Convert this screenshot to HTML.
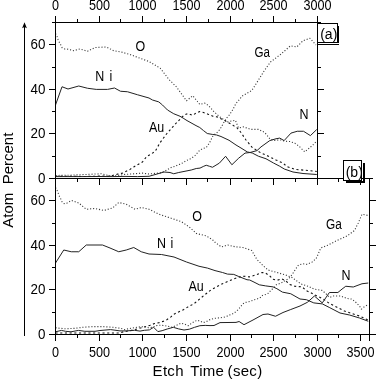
<!DOCTYPE html>
<html><head><meta charset="utf-8"><title>Atom Percent vs Etch Time</title>
<style>
html,body{margin:0;padding:0;background:#fff;}
body{width:376px;height:379px;overflow:hidden;}
svg{display:block;}
text{font-family:"Liberation Sans", Arial, sans-serif;fill:#000;white-space:pre;}
.tk{font-size:13px;}
.lb{font-size:13px;}
.ax{font-size:15px;letter-spacing:0.3px;word-spacing:-1.1px;}
.ay{font-size:15px;}
.bx{font-size:14px;}
</style></head><body>
<svg width="376" height="379" viewBox="0 0 376 379">
<rect x="0" y="0" width="376" height="379" fill="#fff"/>
<defs><clipPath id="c1"><rect x="55" y="22" width="263" height="157"/></clipPath><clipPath id="c2"><rect x="55" y="178" width="315" height="157"/></clipPath></defs>
<g clip-path="url(#c1)" fill="none" stroke-linejoin="round">
<polyline stroke="#3a3a3a" stroke-width="1.1" stroke-dasharray="1.1 1.9" points="55.50,33.50 57.00,36.30 58.00,39.50 59.40,42.40 60.80,44.90 62.10,47.70 65.00,49.10 68.00,49.20 70.70,49.90 73.50,50.70 80.00,49.00 87.50,51.25 95.00,47.50 106.25,47.00 113.75,50.75 121.25,52.00 130.00,54.50 140.00,58.25 149.00,61.50 160.25,68.25 169.00,79.50 176.50,87.00 186.50,100.75 192.75,95.75 197.25,101.25 199.75,104.40 204.75,103.10 208.50,105.60 213.50,111.25 219.75,116.90 227.25,121.90 235.40,120.25 238.50,128.00 243.50,126.90 251.00,129.40 258.50,129.40 264.75,132.50 269.75,138.75 273.50,140.60 278.50,140.00 281.00,140.00 284.75,141.25 289.75,141.50 294.75,143.10 299.10,146.25 301.60,148.75 304.75,151.90 308.50,148.75 313.50,144.40 316.75,141.00"/>
<polyline stroke="#3a3a3a" stroke-width="1.1" stroke-dasharray="1.1 1.9" points="55.50,175.50 70.00,175.20 85.00,174.50 101.25,173.75 106.25,175.00 112.50,176.25 125.00,174.40 135.00,173.75 142.50,173.10 149.00,174.00 161.50,172.75 171.25,167.50 175.00,166.25 179.40,164.40 183.10,162.75 186.25,160.60 189.40,159.40 192.50,157.50 195.00,155.60 199.40,150.60 202.50,148.75 206.25,147.50 208.10,145.00 210.00,141.90 213.10,135.60 214.75,134.40 218.50,131.25 221.00,127.50 223.50,123.10 226.60,118.10 229.75,114.50 232.90,109.50 235.90,103.50 238.50,100.60 241.00,97.50 243.00,95.50 251.75,90.50 258.00,80.75 264.25,70.75 270.50,62.00 280.50,54.50 290.50,45.75 296.75,47.00 303.00,40.75 310.00,38.25 316.00,45.00"/>
<polyline stroke="#111" stroke-width="1.1" stroke-dasharray="2.1 2.6" points="55.50,176.30 70.00,176.30 85.00,176.50 102.50,176.00 107.50,176.40 112.50,175.50 118.75,173.75 122.50,173.10 126.25,171.25 130.00,169.40 133.75,166.90 138.10,164.40 142.50,161.90 146.60,156.60 151.20,154.00 155.20,151.30 160.00,142.70 166.50,134.00 176.50,122.75 184.00,115.25 187.75,113.50 192.75,115.25 196.00,113.10 199.75,111.50 203.50,112.50 208.50,114.40 212.90,116.25 217.25,116.90 221.00,118.75 224.75,120.60 229.10,123.10 233.50,125.60 237.25,128.00 241.00,132.50 246.00,140.00 252.25,147.50 261.00,153.00 268.50,156.25 276.00,160.00 283.00,163.00 286.75,166.50 295.50,169.50 305.50,170.25 316.75,171.50"/>
<polyline stroke="#222" stroke-width="1" points="55.50,176.60 80.00,176.60 100.00,176.50 112.50,176.60 125.00,176.40 137.50,176.60 149.00,176.30 164.00,172.00 170.00,172.50 173.75,173.75 178.75,172.50 185.00,171.25 191.25,170.00 196.25,168.50 200.00,168.10 203.75,166.25 206.25,165.25 209.40,166.25 212.50,167.25 219.40,163.10 225.60,156.25 231.90,164.75 238.75,158.10 245.00,153.10 250.00,152.50 257.00,150.60 261.00,146.90 269.75,140.60 276.00,138.75 279.75,138.10 284.10,140.60 291.00,133.10 297.25,131.25 303.50,131.25 310.40,135.60 316.75,129.50"/>
<polyline stroke="#222" stroke-width="1" points="55.50,105.00 62.00,86.75 68.00,89.00 78.75,86.00 87.50,88.25 96.25,89.40 107.50,89.40 114.50,88.00 120.50,91.25 127.50,91.75 137.50,94.75 149.00,98.00 152.50,100.00 158.75,101.90 162.50,105.00 167.50,110.00 173.75,113.75 180.00,116.25 183.10,118.10 187.00,120.60 189.00,121.70 196.00,125.60 199.75,127.50 203.50,130.60 207.25,133.50 212.25,134.40 216.60,135.00 221.00,136.50 229.00,140.25 236.00,145.00 241.00,148.00 247.25,151.90 252.25,153.00 258.50,156.25 266.00,158.75 273.50,163.00 279.75,166.25 284.25,169.00 293.00,172.00 303.00,173.50 316.75,174.50"/>
</g>
<g clip-path="url(#c2)" fill="none" stroke-linejoin="round">
<polyline stroke="#3a3a3a" stroke-width="1.1" stroke-dasharray="1.1 1.9" points="55.50,187.50 57.00,190.20 58.30,193.40 59.40,196.30 60.80,199.00 62.10,201.90 64.00,203.60 66.30,203.50 68.80,202.00 71.70,200.50 78.75,203.00 86.25,209.25 95.00,208.50 103.75,210.50 112.50,208.00 118.75,202.50 126.25,204.25 135.00,209.25 141.25,207.50 149.00,209.25 159.00,214.25 169.00,217.50 181.50,221.75 189.00,226.75 196.50,233.50 206.50,236.00 212.75,240.00 215.25,242.50 221.50,247.00 227.75,245.00 235.25,246.75 243.00,247.50 251.75,250.50 256.75,259.25 263.00,265.60 268.00,270.00 273.50,271.50 279.40,273.20 285.40,274.90 292.00,277.50 301.00,284.00 308.50,286.40 313.80,289.00 320.20,290.10 322.00,290.40 325.75,293.50 329.50,297.50 333.25,296.00 340.75,296.00 347.00,298.50 352.00,299.10 355.75,302.25 359.50,306.00 361.40,309.10 364.50,306.60 368.50,304.50"/>
<polyline stroke="#3a3a3a" stroke-width="1.1" stroke-dasharray="1.1 1.9" points="55.50,327.80 65.10,328.80 75.20,328.30 82.80,327.30 92.90,326.60 103.00,326.60 113.00,327.30 120.70,328.30 124.40,329.60 130.80,328.30 140.90,326.70 145.10,326.90 148.50,327.70 152.80,327.30 156.60,325.60 160.40,325.20 164.70,325.60 168.90,326.50 172.30,327.30 177.00,325.10 180.80,323.20 184.50,324.10 188.20,325.70 191.90,323.00 196.70,320.40 199.90,320.90 203.10,322.50 205.60,322.10 209.30,319.90 214.60,318.30 220.00,317.80 223.70,317.30 226.90,316.20 229.50,315.10 232.20,314.10 235.40,312.00 238.00,309.80 240.70,306.60 242.80,303.90 246.00,302.30 248.60,301.80 251.80,300.70 254.50,299.70 257.10,299.10 260.30,297.60 262.50,295.40 265.70,294.40 268.30,293.30 271.00,290.10 273.60,288.00 276.30,284.80 281.00,283.10 285.40,280.60 289.10,278.10 292.25,274.40 295.40,269.40 298.50,265.00 302.90,263.75 307.25,264.40 312.25,261.90 316.00,258.75 317.25,256.25 320.75,248.00 328.25,245.00 337.00,240.50 347.00,236.00 354.50,230.50 358.25,223.00 362.00,214.25 368.25,215.50"/>
<polyline stroke="#111" stroke-width="1.1" stroke-dasharray="2.1 2.6" points="55.50,333.00 80.00,333.00 100.00,333.00 120.00,333.00 124.00,331.60 130.60,330.60 135.00,329.50 141.70,327.70 146.00,326.50 150.20,325.20 154.50,323.50 159.10,322.60 163.00,321.40 166.80,319.70 170.60,317.10 174.40,314.00 178.60,311.90 183.40,309.70 187.70,307.10 194.00,303.75 203.75,295.60 210.00,290.60 216.25,286.90 222.50,283.75 228.75,281.00 235.00,278.50 241.25,276.50 245.60,276.25 249.25,276.90 255.50,275.00 262.00,272.50 265.40,272.90 269.70,275.90 273.00,279.30 277.30,280.20 281.60,278.90 285.40,280.60 289.75,284.40 294.75,286.25 302.25,286.90 306.00,290.60 310.40,292.50 314.75,295.00 319.10,296.90 323.00,298.75 329.50,303.50 337.00,307.25 344.50,311.00 352.00,313.50 359.50,316.00 369.00,320.40"/>
<polyline stroke="#222" stroke-width="1" points="55.50,331.80 61.40,330.40 65.60,331.30 71.00,331.80 78.40,330.40 84.80,331.30 95.00,331.30 100.00,330.50 110.60,329.60 120.00,330.90 126.60,330.90 134.60,330.30 140.00,331.10 144.30,330.30 149.40,329.90 153.60,327.30 157.90,331.60 162.10,330.70 167.20,329.00 173.30,327.30 178.60,328.90 184.00,330.00 189.30,329.20 194.60,327.30 199.90,325.70 205.20,325.40 210.00,325.60 214.00,325.50 220.00,322.60 236.00,322.40 239.10,321.50 244.00,324.70 253.00,320.00 263.00,314.50 268.00,314.00 275.50,316.25 283.00,312.50 290.75,309.50 300.00,306.00 307.40,302.30 314.40,296.00 322.30,302.90 329.40,292.50 337.90,292.50 342.00,289.10 345.75,286.25 353.25,287.00 362.00,283.75 368.25,283.00"/>
<polyline stroke="#222" stroke-width="1" points="55.50,263.00 63.75,250.00 71.25,251.75 78.75,251.75 86.25,245.00 95.00,245.00 102.50,245.00 110.00,248.00 118.75,251.75 126.25,250.00 133.75,247.50 141.25,251.75 149.00,254.00 161.50,254.50 174.00,257.00 186.50,262.00 199.00,266.25 207.50,268.10 215.00,270.60 222.50,272.50 227.50,274.10 233.75,274.40 238.75,276.50 247.00,279.75 249.70,280.00 254.00,282.10 259.30,284.80 265.70,285.90 273.10,286.90 276.90,288.70 282.40,292.10 290.75,293.75 300.00,299.00 306.40,299.70 313.80,302.90 322.30,303.90 329.80,307.70 340.00,313.00 349.50,315.00 359.50,318.00 368.25,321.25"/>
</g>
<g fill="#000" shape-rendering="crispEdges">
<rect x="55" y="16" width="1" height="325"/><rect x="52" y="22" width="266" height="1"/><rect x="317" y="16" width="1" height="169"/><rect x="49" y="178" width="324" height="1"/><rect x="369" y="178" width="1" height="163"/><rect x="49" y="334" width="327" height="1"/><rect x="55" y="16" width="1" height="6"/><rect x="77" y="19" width="1" height="3"/><rect x="99" y="16" width="1" height="6"/><rect x="120" y="19" width="1" height="3"/><rect x="142" y="16" width="1" height="6"/><rect x="164" y="19" width="1" height="3"/><rect x="186" y="16" width="1" height="6"/><rect x="208" y="19" width="1" height="3"/><rect x="230" y="16" width="1" height="6"/><rect x="252" y="19" width="1" height="3"/><rect x="273" y="16" width="1" height="6"/><rect x="295" y="19" width="1" height="3"/><rect x="317" y="16" width="1" height="6"/><rect x="55" y="179" width="1" height="6"/><rect x="77" y="179" width="1" height="3"/><rect x="99" y="179" width="1" height="6"/><rect x="120" y="179" width="1" height="3"/><rect x="142" y="179" width="1" height="6"/><rect x="164" y="179" width="1" height="3"/><rect x="186" y="179" width="1" height="6"/><rect x="207" y="179" width="1" height="3"/><rect x="230" y="179" width="1" height="6"/><rect x="251" y="179" width="1" height="3"/><rect x="273" y="179" width="1" height="6"/><rect x="295" y="179" width="1" height="3"/><rect x="317" y="179" width="1" height="6"/><rect x="338" y="179" width="1" height="3"/><rect x="360" y="179" width="1" height="6"/><rect x="55" y="335" width="1" height="6"/><rect x="77" y="335" width="1" height="3"/><rect x="99" y="335" width="1" height="6"/><rect x="120" y="335" width="1" height="3"/><rect x="142" y="335" width="1" height="6"/><rect x="164" y="335" width="1" height="3"/><rect x="186" y="335" width="1" height="6"/><rect x="207" y="335" width="1" height="3"/><rect x="230" y="335" width="1" height="6"/><rect x="251" y="335" width="1" height="3"/><rect x="273" y="335" width="1" height="6"/><rect x="295" y="335" width="1" height="3"/><rect x="317" y="335" width="1" height="6"/><rect x="338" y="335" width="1" height="3"/><rect x="360" y="335" width="1" height="6"/><rect x="49" y="178" width="6" height="1"/><rect x="52" y="156" width="3" height="1"/><rect x="49" y="133" width="6" height="1"/><rect x="52" y="111" width="3" height="1"/><rect x="49" y="89" width="6" height="1"/><rect x="52" y="67" width="3" height="1"/><rect x="49" y="44" width="6" height="1"/><rect x="52" y="22" width="3" height="1"/><rect x="49" y="334" width="6" height="1"/><rect x="52" y="312" width="3" height="1"/><rect x="49" y="289" width="6" height="1"/><rect x="52" y="267" width="3" height="1"/><rect x="49" y="245" width="6" height="1"/><rect x="52" y="223" width="3" height="1"/><rect x="49" y="200" width="6" height="1"/><rect x="52" y="178" width="3" height="1"/><rect x="318" y="178" width="6" height="1"/><rect x="318" y="156" width="3" height="1"/><rect x="318" y="133" width="6" height="1"/><rect x="318" y="111" width="3" height="1"/><rect x="318" y="89" width="6" height="1"/><rect x="318" y="67" width="3" height="1"/><rect x="318" y="44" width="6" height="1"/><rect x="318" y="22" width="3" height="1"/><rect x="370" y="334" width="6" height="1"/><rect x="370" y="312" width="3" height="1"/><rect x="370" y="289" width="6" height="1"/><rect x="370" y="267" width="3" height="1"/><rect x="370" y="245" width="6" height="1"/><rect x="370" y="223" width="3" height="1"/><rect x="370" y="200" width="6" height="1"/><rect x="370" y="178" width="3" height="1"/><rect x="24" y="27" width="1" height="309"/>
</g>
<path d="M24.5,22.3 L26.9,28.2 L24.5,27.1 L22.1,28.2 Z" fill="#000"/>
<rect x="318" y="24" width="19" height="18" fill="#fff" shape-rendering="crispEdges"/><rect x="317" y="23" width="21" height="1" fill="#000" shape-rendering="crispEdges"/><rect x="317" y="42" width="21" height="1" fill="#000" shape-rendering="crispEdges"/><rect x="317" y="23" width="1" height="20" fill="#000" shape-rendering="crispEdges"/><rect x="337" y="23" width="1" height="20" fill="#000" shape-rendering="crispEdges"/><rect x="338" y="26" width="1" height="17" fill="#000" shape-rendering="crispEdges"/><rect x="318" y="44" width="21" height="1" fill="#000" shape-rendering="crispEdges"/>
<text class="bx" x="320.2" y="39">(a)</text>
<rect x="344" y="161" width="17" height="19" fill="#fff" shape-rendering="crispEdges"/><rect x="343" y="160" width="19" height="1" fill="#000" shape-rendering="crispEdges"/><rect x="343" y="180" width="19" height="1" fill="#000" shape-rendering="crispEdges"/><rect x="343" y="160" width="1" height="21" fill="#000" shape-rendering="crispEdges"/><rect x="361" y="160" width="1" height="21" fill="#000" shape-rendering="crispEdges"/><rect x="363" y="163" width="2" height="20" fill="#000" shape-rendering="crispEdges"/><rect x="346" y="181" width="19" height="2" fill="#000" shape-rendering="crispEdges"/>
<text class="bx" x="345.7" y="176.5">(b)</text>
<text class="tk" transform="translate(55.5,9.8) scale(0.97,1.1)" text-anchor="middle" xml:space="preserve">0</text><text class="tk" transform="translate(99.5,9.8) scale(0.97,1.1)" text-anchor="middle" xml:space="preserve">500</text><text class="tk" transform="translate(142.5,9.8) scale(0.97,1.1)" text-anchor="middle" xml:space="preserve">1000</text><text class="tk" transform="translate(186.5,9.8) scale(0.97,1.1)" text-anchor="middle" xml:space="preserve">1500</text><text class="tk" transform="translate(230.5,9.8) scale(0.97,1.1)" text-anchor="middle" xml:space="preserve">2000</text><text class="tk" transform="translate(273.5,9.8) scale(0.97,1.1)" text-anchor="middle" xml:space="preserve">2500</text><text class="tk" transform="translate(317.5,9.8) scale(0.97,1.1)" text-anchor="middle" xml:space="preserve">3000</text>
<text class="tk" transform="translate(55.5,357.2) scale(0.97,1.1)" text-anchor="middle" xml:space="preserve">0</text><text class="tk" transform="translate(99.5,357.2) scale(0.97,1.1)" text-anchor="middle" xml:space="preserve">500</text><text class="tk" transform="translate(142.5,357.2) scale(0.97,1.1)" text-anchor="middle" xml:space="preserve">1000</text><text class="tk" transform="translate(186.5,357.2) scale(0.97,1.1)" text-anchor="middle" xml:space="preserve">1500</text><text class="tk" transform="translate(230.5,357.2) scale(0.97,1.1)" text-anchor="middle" xml:space="preserve">2000</text><text class="tk" transform="translate(273.5,357.2) scale(0.97,1.1)" text-anchor="middle" xml:space="preserve">2500</text><text class="tk" transform="translate(317.5,357.2) scale(0.97,1.1)" text-anchor="middle" xml:space="preserve">3000</text><text class="tk" transform="translate(360.5,357.2) scale(0.97,1.1)" text-anchor="middle" xml:space="preserve">3500</text>
<text class="tk" transform="translate(45.4,182.8) scale(1.03,1.1)" text-anchor="end" xml:space="preserve">0</text><text class="tk" transform="translate(45.4,338.8) scale(1.03,1.1)" text-anchor="end" xml:space="preserve">0</text><text class="tk" transform="translate(45.4,137.8) scale(1.03,1.1)" text-anchor="end" xml:space="preserve">20</text><text class="tk" transform="translate(45.4,293.8) scale(1.03,1.1)" text-anchor="end" xml:space="preserve">20</text><text class="tk" transform="translate(45.4,93.8) scale(1.03,1.1)" text-anchor="end" xml:space="preserve">40</text><text class="tk" transform="translate(45.4,249.8) scale(1.03,1.1)" text-anchor="end" xml:space="preserve">40</text><text class="tk" transform="translate(45.4,48.8) scale(1.03,1.1)" text-anchor="end" xml:space="preserve">60</text><text class="tk" transform="translate(45.4,204.8) scale(1.03,1.1)" text-anchor="end" xml:space="preserve">60</text>
<text class="lb" transform="translate(135.6,50.7) scale(0.96,1.1)" xml:space="preserve">O</text>
<text class="lb" transform="translate(95.3,80.6) scale(0.96,1.1)" xml:space="preserve">N</text>
<text class="lb" transform="translate(109.4,80.6) scale(0.96,1.1)" xml:space="preserve">i</text>
<text class="lb" transform="translate(148.9,131.9) scale(0.96,1.1)" xml:space="preserve">Au</text>
<text class="lb" transform="translate(254.4,56.7) scale(0.8928,1.1)" xml:space="preserve">Ga</text>
<text class="lb" transform="translate(299.6,118.9) scale(0.96,1.1)" xml:space="preserve">N</text>
<text class="lb" transform="translate(192.3,221) scale(0.96,1.1)" xml:space="preserve">O</text>
<text class="lb" transform="translate(156.9,248) scale(0.96,1.1)" xml:space="preserve">N</text>
<text class="lb" transform="translate(170.6,248) scale(0.96,1.1)" xml:space="preserve">i</text>
<text class="lb" transform="translate(188.5,291.2) scale(0.96,1.1)" xml:space="preserve">Au</text>
<text class="lb" transform="translate(326,229.2) scale(0.9119999999999999,1.1)" xml:space="preserve">Ga</text>
<text class="lb" transform="translate(341.5,280) scale(0.96,1.1)" xml:space="preserve">N</text>
<text class="ax" x="152.6" y="376" xml:space="preserve">Etch  Time (sec)</text>
<text class="ay" transform="translate(12.5,227.7) rotate(-90)" xml:space="preserve">Atom  Percent</text>
</svg>
</body></html>
